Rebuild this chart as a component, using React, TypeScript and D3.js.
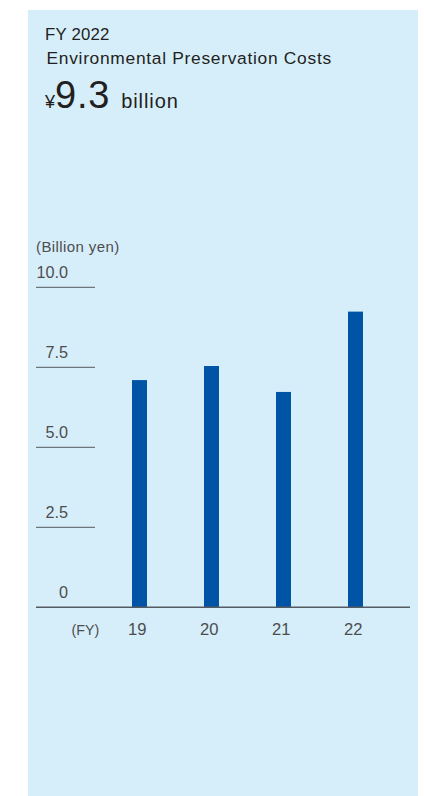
import React from "react";
import * as d3 from "d3";

const years = ["19", "20", "21", "22"];
const costs = [7.1, 7.54, 6.73, 9.24];
const yTicks = [0, 2.5, 5.0, 7.5, 10.0];
const yTickLabels = ["0", "2.5", "5.0", "7.5", "10.0"];

const W = 424;
const H = 796;
const FONT = "'Liberation Sans', Arial, Helvetica, sans-serif";

export default function App() {
  const y = d3.scaleLinear().domain([0, 10]).range([607.3, 287.3]);
  const x = d3.scalePoint<string>().domain(years).range([103.5, 391.5]).padding(0.5);
  const barW = 15;

  return (
    <svg
      width={W}
      height={H}
      style={{ position: "absolute", left: 0, top: 0, display: "block" }}
      fontFamily={FONT}
    >
      <rect x={0} y={0} width={W} height={H} fill="#ffffff" />
      <rect x={28} y={10} width={390} height={786} fill="#d6eefa" />

      <text x={45} y={40} fontSize={16.8} fill="#231f20" letterSpacing={0.2}>
        FY 2022
      </text>
      <text x={46.5} y={63.5} fontSize={17.4} fill="#231f20" letterSpacing={0.7}>
        Environmental Preservation Costs
      </text>
      <text y={108} fill="#231f20">
        <tspan x={45} fontSize={18}>¥</tspan>
        <tspan fontSize={38} letterSpacing={0.8}>9.3</tspan>
        <tspan fontSize={20} dx={11} letterSpacing={0.9}>billion</tspan>
      </text>

      <text x={36} y={252} fontSize={15} fill="#4d4d4f" letterSpacing={0.4}>
        (Billion yen)
      </text>

      {yTicks.map((t, i) => (
        <g key={t}>
          {t > 0 && (
            <line x1={36} x2={95} y1={y(t)} y2={y(t)} stroke="#6f777c" strokeWidth={1.3} />
          )}
          <text
            x={68}
            y={y(t) - 9.5}
            fontSize={16.2}
            fill="#4d4d4f"
            textAnchor="end"
          >
            {yTickLabels[i]}
          </text>
        </g>
      ))}

      {years.map((yr, i) => (
        <rect
          key={yr}
          x={(x(yr) as number) - barW / 2}
          y={y(costs[i])}
          width={barW}
          height={y(0) - y(costs[i])}
          fill="#0054a6"
        />
      ))}

      <line x1={36} x2={410} y1={y(0)} y2={y(0)} stroke="#545b60" strokeWidth={1.6} />

      <text x={85.5} y={635} fontSize={14.3} fill="#4d4d4f" textAnchor="middle">
        (FY)
      </text>
      {years.map((yr) => (
        <text
          key={yr}
          x={(x(yr) as number) - 2.3}
          y={635}
          fontSize={16.6}
          fill="#4d4d4f"
          textAnchor="middle"
        >
          {yr}
        </text>
      ))}
    </svg>
  );
}
